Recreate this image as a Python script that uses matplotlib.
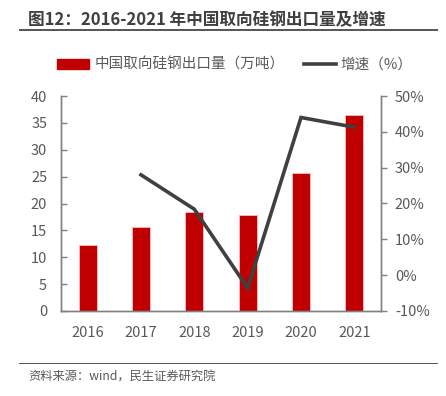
import matplotlib
matplotlib.use("Agg")
import matplotlib.pyplot as plt
from matplotlib.lines import Line2D
from matplotlib.patches import Patch
from matplotlib.ticker import FuncFormatter

plt.rcParams["font.family"] = ["Noto Sans CJK SC", "DejaVu Sans"]

# ── Data ─────────────────────────────────────
years   = ["2016", "2017", "2018", "2019", "2020", "2021"]
exports = [12.2, 15.6, 18.4, 17.8, 25.7, 36.4]          # 万吨
growth  = [None, 28.0, 18.4, -3.6, 44.0, 41.3]          # %

title  = "图12：2016-2021 年中国取向硅钢出口量及增速"
source = "资料来源：wind，民生证券研究院"
bar_label  = "中国取向硅钢出口量（万吨）"
line_label = "增速（%）"

RED  = "#C00000"
DARK = "#404040"
GREY = "#595959"
AXIS = "#808080"

# ── Figure ───────────────────────────────────
W, H = 446, 396
fig = plt.figure(figsize=(W / 100, H / 100), dpi=100)

# header / footer rules as thin filled strips
fig.patches.append(plt.Rectangle((19 / W, 1 - 31 / H), 419 / W, 2 / H,
                                 transform=fig.transFigure, color=GREY, lw=0))
fig.patches.append(plt.Rectangle((19 / W, 1 - 364 / H), 419 / W, 1.5 / H,
                                 transform=fig.transFigure, color=GREY, lw=0))

ax = fig.add_axes([61 / W, (H - 311) / H, (381 - 61) / W, (311 - 96) / H])
x = list(range(len(years)))
ax.bar(x, exports, width=0.34, color=RED, edgecolor="#F2B8B8", linewidth=0.7, zorder=2)
ax.set_xlim(-0.5, len(years) - 0.5)
ax.set_ylim(0, 40)
ax.set_yticks(range(0, 41, 5))
ax.set_xticks(x)
ax.set_xticklabels(years)

ax2 = ax.twinx()
gx = [i for i, g in zip(x, growth) if g is not None]
gy = [g for g in growth if g is not None]
ax2.plot(gx, gy, color=DARK, lw=2.6, solid_joinstyle="miter", zorder=3)
ax2.set_ylim(-10, 50)
ax2.set_yticks(range(-10, 51, 10))
ax2.yaxis.set_major_formatter(FuncFormatter(lambda v, _: f"{v:.0f}%"))

for a in (ax, ax2):
    a.spines["top"].set_visible(False)
    for s in ("left", "right", "bottom"):
        a.spines[s].set_color(AXIS)
        a.spines[s].set_linewidth(1.0)
    a.tick_params(colors=GREY, labelsize=10.5, width=1.0, length=4)
    a.tick_params(axis="y", color=AXIS)

ax.tick_params(axis="y", direction="in", pad=10)
ax.tick_params(axis="x", length=0, pad=11)
ax2.tick_params(axis="y", direction="out", pad=6)
ax.set_facecolor("none")

# ── Legend ───────────────────────────────────
handles = [Patch(facecolor=RED, edgecolor=RED), Line2D([], [], color=DARK, lw=2.6)]
fig.legend(handles, [bar_label, line_label], loc="center", ncol=2,
           bbox_to_anchor=(235 / W, 1 - 65 / H), frameon=False,
           fontsize=10.5, labelcolor=GREY, handlelength=2.2, handleheight=0.6,
           handletextpad=0.35, columnspacing=1.3)

# ── Title & source ───────────────────────────
fig.text(28 / W, 1 - 20 / H, title, fontsize=12, fontweight="bold",
         color="#3F3F3F", va="center", ha="left")
fig.text(28 / W, 1 - 377 / H, source, fontsize=8.8, color=GREY, va="center", ha="left")

fig.savefig("out.png", dpi=100)
